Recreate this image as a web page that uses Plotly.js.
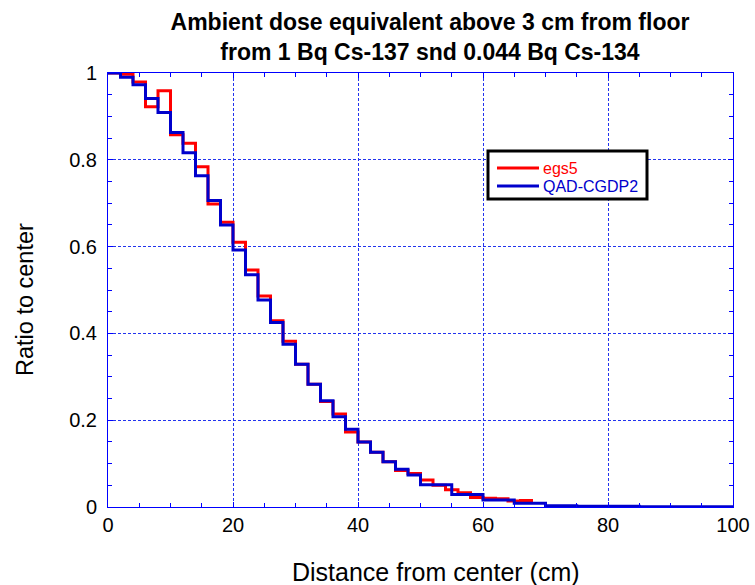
<!DOCTYPE html>
<html>
<head>
<meta charset="utf-8">
<script src="https://cdn.plot.ly/plotly-3.0.1.min.js"></script>
<style>html,body{margin:0;padding:0;background:#fff;}#chart{width:755px;height:585px;}</style>
</head>
<body>
<div id="chart"></div>
<script>
// Bin edges (cm) and ratio values
const egs5Edges = [0,2,4,6,8,10,12,14,16,18,20,22,24,26,28,30,32,34,36,38,40,42,44,46,48,50,52,54,56,58,60,62,64,66,68];
const egs5Values = [1.0,0.997,0.979,0.922,0.959,0.858,0.838,0.784,0.698,0.656,0.610,0.546,0.486,0.429,0.382,0.329,0.283,0.243,0.214,0.173,0.150,0.126,0.104,0.084,0.077,0.062,0.050,0.040,0.033,0.022,0.020,0.019,0.014,0.015];

const qadEdges = [0,2,4,6,8,10,12,14,16,18,20,22,24,26,28,30,32,34,36,38,40,42,44,46,48,50,55,60,65,70,75,85,100];
const qadValues = [1.0,0.990,0.973,0.941,0.909,0.863,0.816,0.763,0.706,0.650,0.592,0.535,0.477,0.425,0.375,0.329,0.283,0.245,0.208,0.179,0.150,0.126,0.104,0.087,0.074,0.051,0.029,0.016,0.0085,0.003,0.002,0.0003];

const seriesNames = ['egs5', 'QAD-CGDP2'];
const seriesColors = ['#ff0000', '#0000cc'];

const xTickVals = [0,20,40,60,80,100];
const yTickVals = [0,0.2,0.4,0.6,0.8,1];

const titleText = '<b>Ambient dose equivalent above 3 cm from floor<br>from 1 Bq Cs-137 snd 0.044 Bq Cs-134</b>';
const xTitle = 'Distance from center (cm)';
const yTitle = 'Ratio to center';

function stepXY(edges, vals) {
  const x = edges.slice();
  const y = vals.concat([vals[vals.length - 1]]);
  return {x, y};
}

const red = stepXY(egs5Edges, egs5Values);
const blue = stepXY(qadEdges, qadValues);

const FONT = 'Liberation Sans, Arial, sans-serif';
const AX = '#0000ff';

const traces = [
  {x: red.x, y: red.y, mode: 'lines', line: {shape: 'hv', color: seriesColors[0], width: 3}, name: seriesNames[0]},
  {x: blue.x, y: blue.y, mode: 'lines', line: {shape: 'hv', color: seriesColors[1], width: 3}, name: seriesNames[1]}
];

// plot area in pixels: x 108..733, y 73..507
const PL = 108, PR = 733, PT = 73, PB = 507;
const px = v => (v - PL) / (PR - PL);
const py = v => (PB - v) / (PB - PT);

const shapes = [
  {type: 'rect', xref: 'paper', yref: 'paper', x0: px(488), x1: px(647), y0: py(199), y1: py(151),
   line: {color: '#000', width: 3}, fillcolor: '#fff', layer: 'above'},
  {type: 'line', xref: 'paper', yref: 'paper', x0: px(497), x1: px(539), y0: py(168), y1: py(168),
   line: {color: seriesColors[0], width: 3}, layer: 'above'},
  {type: 'line', xref: 'paper', yref: 'paper', x0: px(497), x1: px(539), y0: py(186), y1: py(186),
   line: {color: seriesColors[1], width: 3}, layer: 'above'}
];

const annotations = [
  {xref: 'paper', yref: 'paper', x: px(541), y: py(168), xanchor: 'left', yanchor: 'middle', showarrow: false,
   text: seriesNames[0], font: {family: FONT, size: 16, color: seriesColors[0]}},
  {xref: 'paper', yref: 'paper', x: px(541), y: py(186), xanchor: 'left', yanchor: 'middle', showarrow: false,
   text: seriesNames[1], font: {family: FONT, size: 16, color: seriesColors[1]}},
  // axis titles
  {xref: 'paper', yref: 'paper', x: px(436), y: py(572), xanchor: 'center', yanchor: 'middle', showarrow: false,
   text: xTitle, font: {family: FONT, size: 25, color: '#000'}},
  {xref: 'paper', yref: 'paper', x: px(25), y: py(300), xanchor: 'center', yanchor: 'middle', showarrow: false,
   textangle: -90, text: yTitle, font: {family: FONT, size: 23.5, color: '#000'}}
];

const axisCommon = {
  showline: true, linecolor: AX, linewidth: 1, mirror: 'ticks',
  ticks: 'inside', ticklen: 5, tickcolor: AX, tickwidth: 1,
  showgrid: true, gridcolor: '#2233ee', gridwidth: 1, griddash: '3px,2px',
  zeroline: false,
  tickfont: {family: FONT, size: 20, color: '#000'}
};

const layout = {
  width: 755, height: 585,
  margin: {l: 108, r: 22, t: 73, b: 78},
  paper_bgcolor: '#fff', plot_bgcolor: '#fff',
  title: {
    text: titleText,
    font: {family: FONT, size: 23, color: '#000'},
    x: px(430), xref: 'paper', xanchor: 'center',
    y: 1 - 30/585, yref: 'container', yanchor: 'top'
  },
  xaxis: Object.assign({}, axisCommon, {
    range: [0, 100], tickvals: xTickVals,
    minor: {dtick: 5, ticks: 'inside', ticklen: 4, tickcolor: AX, showgrid: false}
  }),
  yaxis: Object.assign({}, axisCommon, {
    range: [0, 1], tickvals: yTickVals,
    minor: {dtick: 0.05, ticks: 'inside', ticklen: 4, tickcolor: AX, showgrid: false},
    ticklabelstandoff: 6
  }),
  showlegend: false,
  shapes: shapes,
  annotations: annotations
};

Plotly.newPlot('chart', traces, layout, {displayModeBar: false, staticPlot: true});
</script>
</body>
</html>
